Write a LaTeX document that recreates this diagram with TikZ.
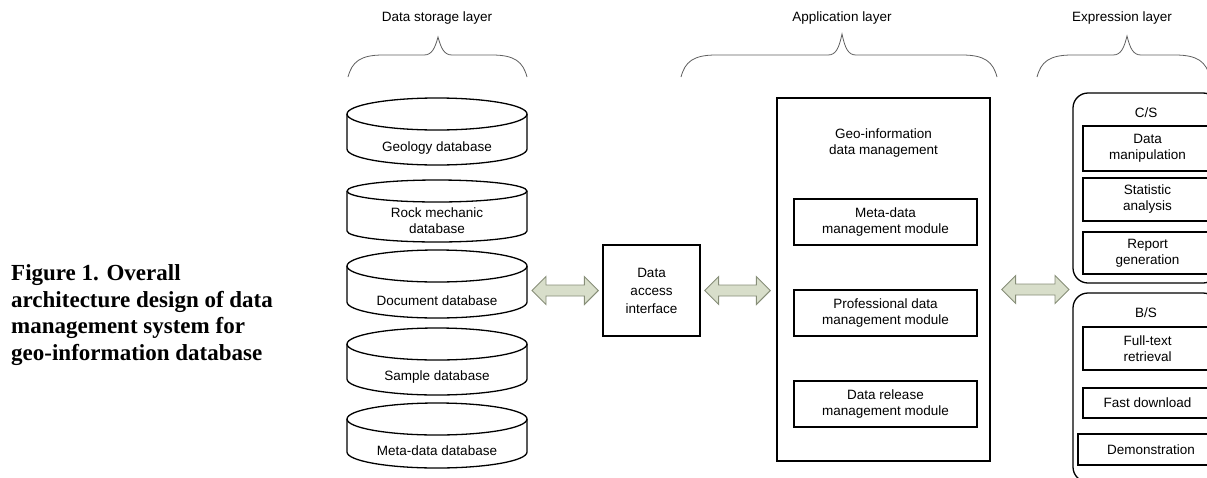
\documentclass[tikz,border=0pt]{standalone}
\usepackage{fontspec}
\setmainfont{Liberation Sans}
\newfontfamily\capfont{Liberation Serif}
\usetikzlibrary{calc}
\definecolor{arrfill}{RGB}{216,222,202}
\definecolor{arrdraw}{RGB}{135,142,120}
\definecolor{bracecol}{RGB}{95,95,95}
\tikzset{
  base/.style={font=\fontsize{13.5}{16}\selectfont, align=center, inner sep=0pt},
  box/.style={base, draw, line width=1.3pt},
  container/.style={draw, line width=1.3pt, rounded corners=15pt, inner sep=0pt},
  cyl/.style={draw, line width=1.3pt, line join=round},
  fat/.style={draw=arrdraw, fill=arrfill, line width=0.9pt, line join=miter},
  brace/.style={draw=bracecol, line width=0.8pt},
  captext/.style={font=\capfont\bfseries\fontsize{23}{26.7}\selectfont, align=left, inner sep=0pt}
}
% #1 name, #2 top, #3 bottom, #4 text y, #5 ellipse y radius, #6 text
\newcommand\dbcyl[6]{%
  \draw[cyl] (437,#2+#5) ellipse[x radius=90, y radius=#5];
  \draw[cyl] (347,#2+#5) -- (347,#3-#5) arc[start angle=180, end angle=0, x radius=90, y radius=#5] -- (527,#2+#5);
  \coordinate (#1-e) at (527,{(#2+#3)/2});
  \node[base] (#1) at (437,#4) {#6};
}
\newcommand\fatarrow[2]{%
  \draw[fat] let \p1=(#1), \p2=(#2) in
    (\x1,\y1) -- (\x1+14pt,\y1+14pt) -- (\x1+14pt,\y1+5.5pt) -- (\x2-14pt,\y1+5.5pt)
    -- (\x2-14pt,\y1+14pt) -- (\x2,\y1) -- (\x2-14pt,\y1-14pt) -- (\x2-14pt,\y1-5.5pt)
    -- (\x1+14pt,\y1-5.5pt) -- (\x1+14pt,\y1-14pt) -- cycle;
}
\newcommand\layerbrace[4]{%
  \draw[brace] (#1,77) .. controls (#1+4,62) and (#1+12,55) .. (#1+35,55)
    -- (#2-14,55) .. controls (#2-6,55) and (#2-3,48) .. (#2,#4)
    .. controls (#2+3,48) and (#2+6,55) .. (#2+14,55)
    -- (#3-35,55) .. controls (#3-12,55) and (#3-4,62) .. (#3,77);
}
\begin{document}
\begin{tikzpicture}[x=1pt,y=-1pt]
\useasboundingbox (0,0) rectangle (1207,477);
\clip (0,0) rectangle (1207,477);

% caption
\node[captext, anchor=west] (caption) at (11,315)
  {Figure 1. Overall\\architecture design of data\\management system for\\geo-information database};

% layer labels and braces
\node[base] (lstore) at (437,18) {Data storage layer};
\node[base] (lapp) at (842,18) {Application layer};
\node[base] (lexp) at (1122,18) {Expression layer};
\layerbrace{348}{438}{527}{37}
\layerbrace{681}{842}{997}{34}
\layerbrace{1037}{1127}{1210}{36}

% databases
\dbcyl{geo}{98}{165}{148}{16}{Geology database}
\dbcyl{rock}{180}{242}{221}{11}{Rock mechanic\\database}
\dbcyl{doc}{250}{318}{301}{16}{Document database}
\dbcyl{sample}{328}{395}{377}{16}{Sample database}
\dbcyl{meta}{403}{468}{451}{16}{Meta-data database}

% data access interface
\node[box, font=\fontsize{13.5}{18}\selectfont, minimum width=97, minimum height=91] (dai) at (651.5,290.5) {Data\\access\\interface};

% application layer
\node[box, minimum width=213, minimum height=363] (gim) at (883.5,279.5) {};
\node[base] (gimtitle) at (883.5,143.5) {Geo-information\\data management};
\node[box, minimum width=183, minimum height=46] (mdm) at (885.5,222) {Meta-data\\management module};
\node[box, minimum width=183, minimum height=46] (pdm) at (885.5,313) {Professional data\\management module};
\node[box, minimum width=183, minimum height=46] (drm) at (885.5,404) {Data release\\management module};

% expression layer
\node[container, minimum width=145, minimum height=190] (cs) at (1145.5,188) {};
\node[base] (cslabel) at (1146,113) {C/S};
\node[box, minimum width=129, minimum height=45] (dm) at (1147.5,148.5) {Data\\manipulation};
\node[box, minimum width=129, minimum height=43] (sa) at (1147.5,199.5) {Statistic\\analysis};
\node[box, minimum width=129, minimum height=42] (rg) at (1147.5,253) {Report\\generation};

\node[container, minimum width=145, minimum height=189] (bs) at (1145.5,387.5) {};
\node[base] (bslabel) at (1146,313) {B/S};
\node[box, minimum width=129, minimum height=43] (ftr) at (1147.5,348.5) {Full-text\\retrieval};
\node[box, minimum width=129, minimum height=30] (fd) at (1147.5,403) {Fast download};
\node[box, minimum width=146, minimum height=31] (demo) at (1151,449.5) {Demonstration};

% arrows
\coordinate (a1s) at ($(doc-e)+(5,0)$);
\coordinate (a1s) at (a1s |- dai.west);
\coordinate (a1e) at ($(dai.west)+(-4,0)$);
\coordinate (a2s) at ($(dai.east)+(4,0)$);
\coordinate (a2e) at ($(gim.west |- dai.east)+(-6,0)$);
\coordinate (a3s) at ($(gim.east |- dai.east)+(11,-1)$);
\coordinate (expin) at (1073,289);
\coordinate (a3e) at ($(expin)+(-4,0)$);
\fatarrow{a1s}{a1e}
\fatarrow{a2s}{a2e}
\fatarrow{a3s}{a3e}
\end{tikzpicture}
\end{document}
